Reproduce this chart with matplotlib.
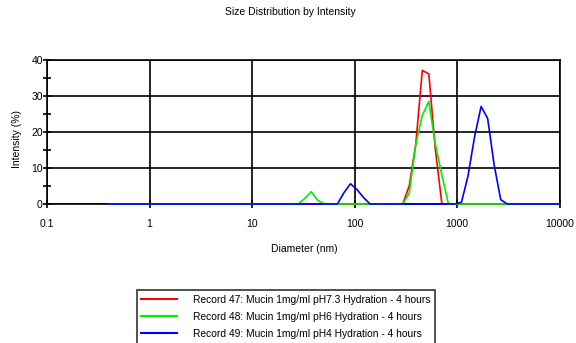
import numpy as np
import matplotlib
matplotlib.use("Agg")
import matplotlib.pyplot as plt
from matplotlib.ticker import FixedLocator, NullFormatter

plt.rcParams['font.family'] = ['Liberation Sans', 'DejaVu Sans']

# Zetasizer size classes (nm): 70 log-spaced bins from 0.4 to 10000
diameter_nm = np.logspace(np.log10(0.4), 4, 70)

red_pH73 = [0, 0, 0, 0, 0, 0, 0, 0, 0, 0,
            0, 0, 0, 0, 0, 0, 0, 0, 0, 0,
            0, 0, 0, 0, 0, 0, 0, 0, 0, 0,
            0, 0, 0, 0, 0, 0, 0, 0, 0, 0,
            0, 0, 0, 0, 0, 0, 5.0, 16.5, 37.0, 36.0,
            15.0, 0, 0, 0, 0, 0, 0, 0, 0, 0,
            0, 0, 0, 0, 0, 0, 0, 0, 0, 0]
green_pH6 = [0, 0, 0, 0, 0, 0, 0, 0, 0, 0,
             0, 0, 0, 0, 0, 0, 0, 0, 0, 0,
             0, 0, 0, 0, 0, 0, 0, 0, 0, 0,
             1.5, 3.4, 1.0, 0, 0, 0, 0, 0, 0, 0,
             0, 0, 0, 0, 0, 0, 3.0, 16.5, 24.5, 28.4,
             16.5, 8.0, 0, 0, 0, 0, 0, 0, 0, 0,
             0, 0, 0, 0, 0, 0, 0, 0, 0, 0]
blue_pH4 = [0, 0, 0, 0, 0, 0, 0, 0, 0, 0,
            0, 0, 0, 0, 0, 0, 0, 0, 0, 0,
            0, 0, 0, 0, 0, 0, 0, 0, 0, 0,
            0, 0, 0, 0, 0, 0, 3.1, 5.6, 4.0, 1.8,
            0, 0, 0, 0, 0, 0, 0, 0, 0, 0,
            0, 0, 0, 0, 0.5, 7.8, 18.6, 27.0, 23.7, 10.8,
            1.2, 0, 0, 0, 0, 0, 0, 0, 0, 0]

labels = ["Record 47: Mucin 1mg/ml pH7.3 Hydration - 4 hours",
          "Record 48: Mucin 1mg/ml pH6 Hydration - 4 hours",
          "Record 49: Mucin 1mg/ml pH4 Hydration - 4 hours"]
colors = ["#ff0000", "#00ee00", "#0000ff"]

x_ticks = [0.1, 1, 10, 100, 1000, 10000]
x_ticklabels = ["0.1", "1", "10", "100", "1000", "10000"]
y_ticks = [0, 10, 20, 30, 40]

W, H = 576, 343
fig = plt.figure(figsize=(W / 100, H / 100), dpi=100)
ax = fig.add_axes([47 / W, 1 - 204 / H, (559.5 - 47) / W, (204 - 59.5) / H])

lines = []
for ys, c, lab in zip([red_pH73, green_pH6, blue_pH4], colors, labels):
    l, = ax.plot(diameter_nm, ys, color=c, lw=1.2, label=lab, zorder=3, clip_on=False)
    lines.append(l)

ax.set_xscale('log')
ax.set_xlim(0.1, 10000)
ax.set_ylim(0, 40)
ax.xaxis.set_major_locator(FixedLocator(x_ticks))
ax.set_xticklabels(x_ticklabels)
ax.xaxis.set_minor_formatter(NullFormatter())
ax.xaxis.set_minor_locator(FixedLocator([]))
ax.set_yticks(y_ticks)
ax.set_yticks([5, 15, 25, 35], minor=True)
ax.grid(True, which='major', color='black', lw=1.2)
ax.tick_params(which='both', direction='inout', length=6, width=1.2, labelsize=7.5)
ax.tick_params(axis='x', pad=8)
ax.tick_params(axis='y', pad=0)
for s in ax.spines.values():
    s.set_linewidth(1.2)
    s.set_color('black')
    s.set_zorder(2)
ax.set_axisbelow(True)

fig.text(290 / W, 1 - 12 / H, "Size Distribution by Intensity", ha='center', va='center', fontsize=7.5)
fig.text(304 / W, 1 - 249 / H, "Diameter (nm)", ha='center', va='center', fontsize=7.5)
fig.text(17.5 / W, 1 - 139 / H, "Intensity (%)", ha='center', va='center', rotation=90, fontsize=7.5)

leg = fig.legend(handles=lines, loc='upper left', bbox_to_anchor=(136.7 / W, 1 - 290 / H),
                 borderaxespad=0, fontsize=7.4, frameon=True, fancybox=False,
                 handlelength=3.5, handletextpad=1.5, labelspacing=0.7,
                 borderpad=0.45, edgecolor='black')
leg.get_frame().set_linewidth(1.2)
for lh in leg.get_lines():
    lh.set_linewidth(1.5)

fig.savefig("out.png", dpi=100)
